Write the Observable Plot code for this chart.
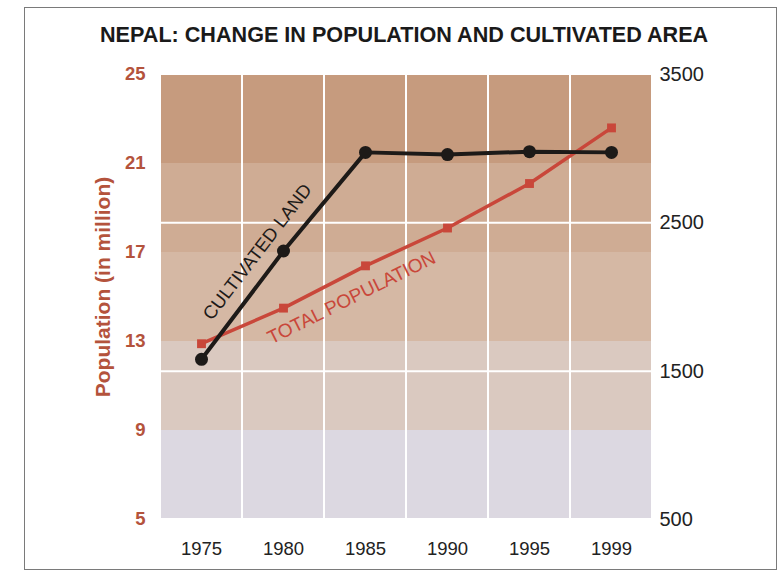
<!DOCTYPE html>
<html>
<head>
<meta charset="utf-8">
<script src="https://cdn.jsdelivr.net/npm/d3@7"></script>
<script src="https://cdn.jsdelivr.net/npm/@observablehq/plot@0.6"></script>
<style>
  html, body { margin: 0; padding: 0; background: #fff; }
  body { width: 782px; height: 575px; overflow: hidden; position: relative; font-family: "Liberation Sans", Arial, sans-serif; }
  #frame { position: absolute; left: 24px; top: 7px; width: 753px; height: 563px; border: 1.5px solid #7a7a7a; box-sizing: border-box; pointer-events: none; }
  #head { position: relative; height: 60px; }
  #title { position: absolute; left: 100px; top: 22px; font-size: 21.6px; font-weight: bold; color: #1a1a1a; white-space: nowrap; }
  #chart { position: relative; }
  #chart svg { display: block; }
</style>
</head>
<body>
<div id="frame"></div>
<div id="head"><div id="title">NEPAL: CHANGE IN POPULATION AND CULTIVATED AREA</div></div>
<div id="chart"></div>
<script>
// Census years (evenly spaced categories on the x axis)
const years = ["1975", "1980", "1985", "1990", "1995", "1999"];
// Total population, million (left axis)
const population = [12.9, 14.5, 16.4, 18.1, 20.1, 22.6];
// Cultivated land, thousand hectares (right axis)
const cultivated = [1580, 2310, 2975, 2960, 2980, 2975];

// Axis ticks and title
const leftTicks = [5, 9, 13, 17, 21, 25];
const rightTicks = [500, 1500, 2500, 3500];
const rightGrid = [1500, 2500];
const leftTitle = "Population (in million)";

// Line annotations
const seriesNames = ["CULTIVATED LAND", "TOTAL POPULATION"];
const labelYears = ["1980", "1985"];

// Styling
const brown = "#b4533c";
const red = "#c9473a";
const ink = "#1d1a18";
const bandFills = ["#dcd8e1", "#dac9c0", "#d5b8a4", "#cfac94", "#c69b7e"];

// Both axes share one vertical extent: map right-axis values into left units
const leftDomain = [d3.min(leftTicks), d3.max(leftTicks)];
const rightDomain = [d3.min(rightTicks), d3.max(rightTicks)];
const toLeft = d3.scaleLinear().domain(rightDomain).range(leftDomain);

const popData = years.map((year, i) => ({year, value: population[i]}));
const landData = years.map((year, i) => ({year, value: toLeft(cultivated[i])}));
const bands = d3.pairs(leftTicks).map(([lo, hi], i) => ({lo, hi, fill: bandFills[i]}));

const chart = Plot.plot({
  width: 782,
  height: 515,
  marginTop: 14,
  marginBottom: 56,
  marginLeft: 160,
  marginRight: 130,
  style: {fontFamily: "'Liberation Sans', Arial, sans-serif", background: "transparent"},
  x: {type: "band", domain: years, padding: 0},
  y: {domain: leftDomain},
  color: {type: "identity"},
  marks: [
    // shaded horizontal bands behind the data
    Plot.rect(bands, {y1: "lo", y2: "hi", fill: "fill"}),
    // white grid: year dividers and right-axis reference lines
    Plot.cell(years, {x: d => d, fill: "none", stroke: "white", strokeWidth: 2, inset: 0}),
    Plot.ruleY(rightGrid.map(toLeft), {stroke: "white", strokeWidth: 2}),

    // population line
    Plot.line(popData, {x: "year", y: "value", stroke: red, strokeWidth: 3.5}),
    // cultivated land line
    Plot.line(landData, {x: "year", y: "value", stroke: ink, strokeWidth: 4}),
    Plot.dot(landData, {x: "year", y: "value", r: 6.5, fill: ink}),
    Plot.dot(popData, {x: "year", y: "value", symbol: "square", r: 5, fill: red}),

    // series labels laid along the lines
    Plot.text([0], {
      x: () => labelYears[0], y: () => landData[years.indexOf(labelYears[0])].value,
      text: () => seriesNames[0], rotate: -52.5, dx: -26, dy: 1,
      fontSize: 18.5, fill: ink, textAnchor: "middle"
    }),
    Plot.text([0], {
      x: () => labelYears[1], y: () => popData[years.indexOf(labelYears[1])].value,
      text: () => seriesNames[1], rotate: -26.5, dx: -14, dy: 32,
      fontSize: 19, fill: red, textAnchor: "middle"
    }),

    // axes
    Plot.axisX({tickSize: 0, tickPadding: 22, fontSize: 18.5, color: "#222", label: null}),
    Plot.axisY({
      anchor: "left", ticks: leftTicks, tickSize: 0, tickPadding: 15,
      fontSize: 18.5, fontWeight: "bold", color: brown, label: null
    }),
    Plot.text([leftTitle], {
      frameAnchor: "left", text: d => d, rotate: -90, dx: -57, dy: -10,
      fontSize: 21, fontWeight: "bold", fill: brown, textAnchor: "middle"
    }),
    Plot.axisY({
      anchor: "right", ticks: rightTicks.map(toLeft), tickSize: 0, tickPadding: 7,
      tickFormat: d => String(Math.round(toLeft.invert(d))),
      fontSize: 20, color: "#222", label: null
    })
  ]
});

document.getElementById("chart").appendChild(chart);
</script>
</body>
</html>
